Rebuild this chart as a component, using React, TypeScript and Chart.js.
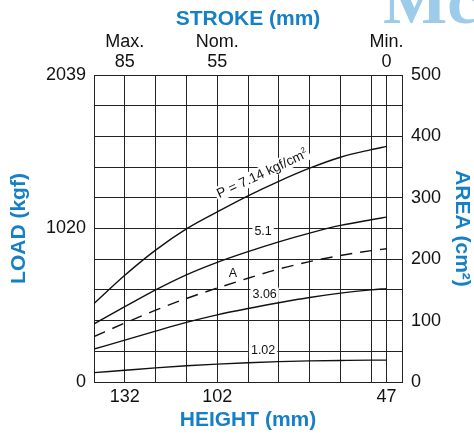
import React, { useEffect, useRef } from "react";
import { Chart, registerables } from "chart.js";

Chart.register(...registerables);

// Heights (mm) at which curves were read
const heights = [142, 132, 122, 112, 102, 92, 82, 72, 62, 52, 47];
// Load curves (kgf) for each pressure
const load714 = [521, 709, 876, 1017, 1130, 1237, 1333, 1420, 1493, 1543, 1565];
const load51 = [386, 500, 612, 712, 795, 866, 931, 989, 1040, 1078, 1095];
const load306 = [219, 278, 338, 396, 446, 488, 526, 561, 590, 612, 620];
const load102 = [62, 78, 94, 108, 119, 128, 135, 140, 143, 145, 145];
// Effective area curve (cm²)
const areaA = [74, 96, 117, 136, 153, 169, 184, 196, 206, 214, 217];

// Axes
const gridHeights = [142, 132, 122, 112, 102, 92, 82, 72, 62, 52, 47, 42];
const heightLabels = [132, 102, 47];
const strokeNames = ["Max.", "Nom.", "Min."];
const strokeValues = [85, 55, 0];
const loadMax = 2039;
const loadTicks = [0, 1020, 2039];
const areaMax = 500;

// Curve labels: [text, height, load]
const curveLabels: [string, number, number][] = [
  ["5.1", 87.1, 997],
  ["3.06", 86.6, 581],
  ["1.02", 87.1, 206],
];
const pLabel = { text: "P = 7.14 kgf/cm", sup: "2", h: 87.3, load: 1381 };
const aLabel = { text: "A", h: 96.9, load: 721 };

const BLUE = "#1580c6";
const GRID = "#222";
const FONT = "'Liberation Sans', Arial, Helvetica, sans-serif";

const labelsPlugin = {
  id: "curveLabels",
  beforeDatasetsDraw(chart: any) {
    const { ctx, scales } = chart;
    const xs = scales.x;
    const ys = scales.y;
    ctx.save();
    ctx.textBaseline = "middle";
    ctx.textAlign = "center";
    ctx.font = `12.5px ${FONT}`;
    for (const [t, h, l] of curveLabels) {
      const px = xs.getPixelForValue(h);
      const py = ys.getPixelForValue(l);
      const w = ctx.measureText(t).width;
      ctx.fillStyle = "#fff";
      ctx.fillRect(px - w / 2 - 2, py - 7, w + 4, 14);
      ctx.fillStyle = "#111";
      ctx.fillText(t, px, py);
    }
    {
      const px = xs.getPixelForValue(aLabel.h);
      const py = ys.getPixelForValue(aLabel.load);
      ctx.fillStyle = "#111";
      ctx.fillText(aLabel.text, px, py);
    }
    {
      const px = xs.getPixelForValue(pLabel.h);
      const py = ys.getPixelForValue(pLabel.load);
      ctx.translate(px, py);
      ctx.rotate((-25 * Math.PI) / 180);
      ctx.font = `13.5px ${FONT}`;
      const w1 = ctx.measureText(pLabel.text).width;
      ctx.font = `8px ${FONT}`;
      const w2 = ctx.measureText(pLabel.sup).width;
      const tw = w1 + w2;
      ctx.fillStyle = "#fff";
      ctx.fillRect(-tw / 2 - 2, -8, tw + 4, 15);
      ctx.fillStyle = "#111";
      ctx.textAlign = "left";
      ctx.font = `13.5px ${FONT}`;
      ctx.fillText(pLabel.text, -tw / 2, 0);
      ctx.font = `8px ${FONT}`;
      ctx.fillText(pLabel.sup, -tw / 2 + w1, -4);
    }
    ctx.restore();
  },
  afterDraw(chart: any) {
    const { ctx } = chart;
    ctx.save();
    ctx.fillStyle = "#9dcbea";
    ctx.font = `bold 68px 'Liberation Serif', 'DejaVu Serif', serif`;
    ctx.textBaseline = "alphabetic";
    ctx.textAlign = "left";
    ctx.fillText("Mc", 383, 23);
    ctx.restore();
  },
};

export default function App() {
  const ref = useRef<HTMLCanvasElement | null>(null);

  useEffect(() => {
    if (!ref.current) return;
    const pts = (arr: number[]) => heights.map((h, i) => ({ x: h, y: arr[i] }));
    const lineDs = (arr: number[], axis = "y", dash: number[] = []) => ({
      data: pts(arr),
      xAxisID: "x",
      yAxisID: axis,
      borderColor: "#111",
      borderWidth: 1.4,
      borderDash: dash,
      pointRadius: 0,
      cubicInterpolationMode: "monotone" as const,
      fill: false,
    });
    const tickFont = { family: FONT, size: 18, lineHeight: 1.1 };
    const titleFont = { family: FONT, size: 21, weight: "bold" as const, lineHeight: 1.2 };

    const chart = new Chart(ref.current, {
      type: "line",
      data: {
        datasets: [
          lineDs(load714),
          lineDs(load51),
          lineDs(areaA, "y2", [12, 8]),
          lineDs(load306),
          lineDs(load102),
        ],
      },
      options: {
        animation: false,
        responsive: false,
        devicePixelRatio: 1,
        layout: { padding: 0 },
        plugins: { legend: { display: false }, tooltip: { enabled: false } },
        scales: {
          x: {
            type: "linear",
            position: "bottom",
            min: 42,
            max: 142,
            reverse: true,
            afterBuildTicks: (s: any) => {
              s.ticks = gridHeights.map((v) => ({ value: v }));
            },
            afterFit: (s: any) => {
              s.height = 52;
            },
            ticks: {
              autoSkip: false,
              maxRotation: 0,
              padding: 5,
              color: "#111",
              font: tickFont,
              callback: (v: any) => (heightLabels.includes(Number(v)) ? String(v) : ""),
            },
            grid: { color: GRID, lineWidth: 1, drawTicks: false },
            border: { color: GRID, width: 1 },
            title: {
              display: true,
              text: "HEIGHT (mm)",
              color: BLUE,
              font: titleFont,
              padding: { top: 0, bottom: 1 },
            },
          },
          x2: {
            type: "linear",
            position: "top",
            min: 42,
            max: 142,
            reverse: true,
            afterBuildTicks: (s: any) => {
              s.ticks = heightLabels.map((v) => ({ value: v }));
            },
            afterFit: (s: any) => {
              s.height = 75;
            },
            ticks: {
              autoSkip: false,
              maxRotation: 0,
              padding: 3,
              color: "#111",
              font: tickFont,
              callback: (v: any) => {
                const i = heightLabels.indexOf(Number(v));
                return i >= 0 ? [strokeNames[i], String(strokeValues[i])] : "";
              },
            },
            grid: { display: false, drawTicks: false },
            border: { display: false },
            title: {
              display: true,
              text: "STROKE (mm)",
              color: BLUE,
              font: titleFont,
              padding: { top: 7, bottom: 0 },
            },
          },
          y: {
            type: "linear",
            position: "left",
            min: 0,
            max: loadMax,
            afterBuildTicks: (s: any) => {
              const t = [];
              for (let k = 0; k <= 10; k++) t.push({ value: (loadMax * k) / 10 });
              s.ticks = t;
            },
            afterFit: (s: any) => {
              s.width = 94;
            },
            ticks: {
              autoSkip: false,
              padding: 8,
              color: "#111",
              font: tickFont,
              callback: (v: any) => {
                const lab = loadTicks.find((t) => Math.abs(t - Number(v)) < 2);
                return lab === undefined ? "" : String(lab);
              },
            },
            grid: { color: GRID, lineWidth: 1, drawTicks: false },
            border: { color: GRID, width: 1 },
            title: {
              display: true,
              text: "LOAD (kgf)",
              color: BLUE,
              font: titleFont,
              padding: { top: 7, bottom: 0 },
            },
          },
          y2: {
            type: "linear",
            position: "right",
            min: 0,
            max: areaMax,
            afterFit: (s: any) => {
              s.width = 72;
            },
            ticks: {
              stepSize: 100,
              padding: 9,
              color: "#111",
              font: tickFont,
            },
            grid: { display: false, drawTicks: false },
            border: { color: GRID, width: 1 },
            title: {
              display: true,
              text: "AREA (cm²)",
              color: BLUE,
              font: titleFont,
              padding: { top: 0, bottom: 0 },
            },
          },
        },
      },
      plugins: [labelsPlugin],
    } as any);
    return () => chart.destroy();
  }, []);

  return (
    <div style={{ position: "absolute", left: 0, top: 0, width: 474, height: 434, background: "#fff" }}>
      <canvas ref={ref} width={474} height={434} style={{ width: 474, height: 434, display: "block" }} />
    </div>
  );
}
